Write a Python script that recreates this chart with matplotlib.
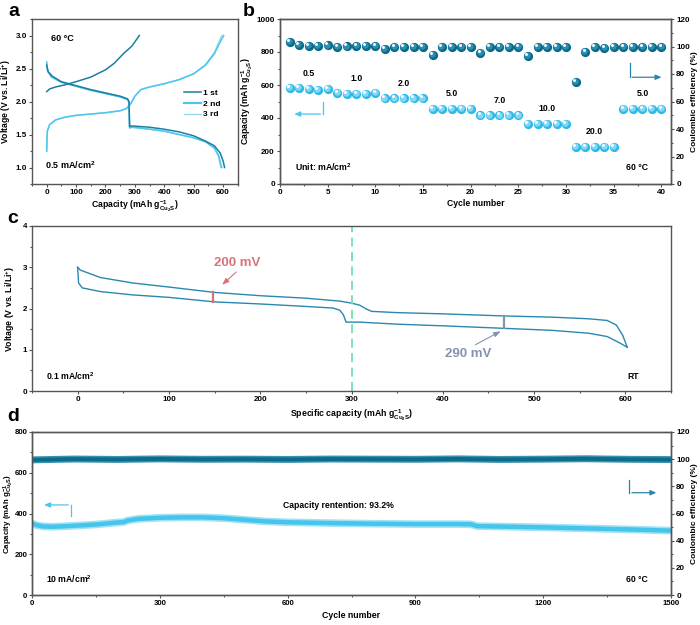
import numpy as np
import matplotlib
matplotlib.use('Agg')
import matplotlib.pyplot as plt
from matplotlib.ticker import MultipleLocator
from matplotlib.transforms import offset_copy
from matplotlib.lines import Line2D

plt.rcParams['font.family'] = ['Liberation Sans', 'DejaVu Sans']
plt.rcParams['font.weight'] = 'bold'
plt.rcParams['axes.labelweight'] = 'bold'
plt.rcParams['mathtext.fontset'] = 'custom'
plt.rcParams['mathtext.rm'] = 'Liberation Sans:bold'
plt.rcParams['mathtext.bf'] = 'Liberation Sans:bold'
plt.rcParams['mathtext.it'] = 'Liberation Sans:bold'
plt.rcParams['mathtext.default'] = 'bf'

# ---- panel a : first three cycles at 0.5 mA/cm2, 60 C
a1_dis_cap = [0, 5, 20, 50, 100, 150, 200, 250, 275, 280, 282, 290, 350, 400, 450, 500, 540, 570, 590, 600, 605]
a1_dis_v = [2.55, 2.45, 2.38, 2.30, 2.24, 2.18, 2.13, 2.08, 2.04, 2.00, 1.62, 1.63, 1.61, 1.58, 1.54, 1.48, 1.40, 1.33, 1.22, 1.10, 1.00]
a1_ch_cap = [0, 10, 30, 60, 100, 150, 200, 230, 260, 290, 315]
a1_ch_v = [2.15, 2.19, 2.22, 2.25, 2.30, 2.37, 2.48, 2.58, 2.72, 2.84, 3.00]
a2_dis_cap = [0, 3, 15, 50, 100, 150, 200, 250, 275, 280, 282, 290, 350, 400, 450, 500, 540, 570, 585, 595]
a2_dis_v = [2.60, 2.47, 2.38, 2.29, 2.23, 2.17, 2.12, 2.07, 2.03, 1.99, 1.60, 1.61, 1.58, 1.55, 1.50, 1.45, 1.39, 1.30, 1.18, 1.00]
a2_ch_cap = [0, 2, 10, 30, 60, 100, 150, 200, 250, 270, 285, 300, 320, 350, 400, 450, 500, 540, 570, 590, 602]
a2_ch_v = [1.25, 1.55, 1.65, 1.72, 1.76, 1.79, 1.81, 1.83, 1.86, 1.89, 1.96, 2.08, 2.18, 2.22, 2.27, 2.33, 2.42, 2.55, 2.72, 2.90, 3.00]
a3_dis_cap = [0, 3, 15, 50, 100, 150, 200, 250, 275, 280, 282, 290, 350, 400, 450, 500, 540, 570, 585, 592]
a3_dis_v = [2.58, 2.46, 2.37, 2.29, 2.23, 2.17, 2.12, 2.07, 2.03, 1.99, 1.60, 1.61, 1.58, 1.55, 1.50, 1.45, 1.39, 1.29, 1.16, 1.00]
a3_ch_cap = [0, 2, 10, 30, 60, 100, 150, 200, 250, 270, 285, 300, 320, 350, 400, 450, 500, 540, 570, 585, 596]
a3_ch_v = [1.25, 1.55, 1.65, 1.72, 1.76, 1.79, 1.81, 1.83, 1.86, 1.89, 1.96, 2.08, 2.18, 2.22, 2.27, 2.33, 2.42, 2.56, 2.74, 2.90, 3.00]

# ---- panel b : rate performance
b_cycle = list(range(1, 41))
b_capacity = [583, 580, 578, 572, 578, 550, 548, 548, 548, 551,
              519, 519, 519, 519, 519, 455, 455, 455, 455, 455,
              416, 416, 416, 416, 416, 366, 366, 366, 366, 366,
              226, 226, 226, 226, 226, 455, 455, 455, 455, 455]
b_ce = [103.5, 101.1, 100.6, 100.4, 100.8, 99.4, 100.1, 100.4, 100.6, 100.6,
        98.0, 100.0, 100.0, 100.0, 100.0, 93.8, 100.0, 100.0, 100.0, 100.0,
        95.5, 100.0, 100.0, 100.0, 100.0, 93.1, 100.0, 100.0, 100.0, 100.0,
        74.0, 96.2, 99.5, 98.9, 100.0, 100.0, 100.0, 100.0, 100.0, 100.0]
b_rates = ['0.5', '1.0', '2.0', '5.0', '7.0', '10.0', '20.0', '5.0']

# ---- panel c : 0.1 mA/cm2 at RT
c_up_cap = [0, 3, 25, 60, 100, 150, 200, 250, 287, 300, 309, 316, 322, 350, 400, 466, 520, 560, 580, 590, 597, 602]
c_up_v = [3.00, 2.93, 2.75, 2.62, 2.52, 2.39, 2.31, 2.25, 2.18, 2.13, 2.08, 1.99, 1.93, 1.90, 1.87, 1.82, 1.79, 1.75, 1.71, 1.60, 1.35, 1.06]
c_lo_cap = [0, 1, 5, 25, 60, 100, 150, 200, 250, 280, 287, 291, 294, 309, 350, 400, 466, 520, 560, 580, 595, 602]
c_lo_v = [3.00, 2.62, 2.50, 2.41, 2.33, 2.27, 2.16, 2.11, 2.05, 2.01, 1.96, 1.85, 1.67, 1.67, 1.62, 1.58, 1.52, 1.47, 1.40, 1.32, 1.15, 1.06]

# ---- panel d : long cycling at 10 mA/cm2
d_cycle = [0, 10, 25, 50, 100, 150, 200, 215, 225, 250, 300, 350, 400, 450, 500, 550, 600,
           700, 800, 900, 1000, 1030, 1045, 1100, 1200, 1300, 1400, 1500]
d_capacity = [352, 343, 337, 335, 340, 346, 356, 358, 366, 374, 379, 381, 381, 377, 369, 361, 357,
              353, 350, 348, 348, 347, 338, 336, 332, 327, 322, 316]
d_ce_cycle = [0, 100, 200, 300, 400, 500, 600, 700, 800, 900, 1000, 1100, 1200, 1300, 1400, 1500]
d_ce = [99.5, 100.1, 99.8, 100.2, 99.9, 100.0, 99.8, 100.1, 100.0, 99.9, 100.2, 99.8, 100.0, 100.3, 99.9, 99.7]

DARK = '#1b7fa3'
LIGHT = '#4cc6ee'
LIGHTER = '#92dcf4'
SPINE = '#555555'

cap_label = r'Capacity (mAh g$^{-1}_{Cu_2S}$)'
volt_label = r'Voltage (V vs. Li/Li$^{+}$)'

fig = plt.figure(figsize=(7, 6.25), dpi=100)
ax_a = fig.add_axes([0.0457, 0.7056, 0.294, 0.264])
ax_b = fig.add_axes([0.4, 0.7056, 0.5586, 0.264])
ax_c = fig.add_axes([0.0457, 0.3744, 0.913, 0.264])
ax_d = fig.add_axes([0.0457, 0.048, 0.913, 0.2608])


def style(ax, size=5.8):
    for s in ax.spines.values():
        s.set_color(SPINE)
        s.set_linewidth(1.0)
    ax.tick_params(which='both', direction='out', color=SPINE, width=0.8,
                   labelsize=size, pad=1.2)
    ax.tick_params(which='major', length=2.5)
    ax.tick_params(which='minor', length=1.5)


def sphere(ax, x, y, base, mid, s=44):
    ax.scatter(x, y, s=s, color=base, zorder=3, linewidths=0, clip_on=False)
    t1 = offset_copy(ax.transData, fig=fig, x=-0.5, y=0.6, units='points')
    ax.scatter(x, y, s=s * 0.5, color=mid, zorder=4, linewidths=0, transform=t1, clip_on=False)
    t2 = offset_copy(ax.transData, fig=fig, x=-1.2, y=1.4, units='points')
    ax.scatter(x, y, s=s * 0.1, color='white', zorder=5, linewidths=0, transform=t2, clip_on=False)


# ---------------- a
ax_a.plot(a3_dis_cap, a3_dis_v, color=LIGHTER, lw=1.0)
ax_a.plot(a3_ch_cap, a3_ch_v, color=LIGHTER, lw=1.0)
ax_a.plot(a2_dis_cap, a2_dis_v, color=LIGHT, lw=1.1)
ax_a.plot(a2_ch_cap, a2_ch_v, color=LIGHT, lw=1.1)
ax_a.plot(a1_dis_cap, a1_dis_v, color=DARK, lw=1.1)
ax_a.plot(a1_ch_cap, a1_ch_v, color=DARK, lw=1.1)
ax_a.set_xlim(-50, 650)
ax_a.set_ylim(0.75, 3.25)
ax_a.xaxis.set_major_locator(MultipleLocator(100))
ax_a.xaxis.set_minor_locator(MultipleLocator(50))
ax_a.yaxis.set_major_locator(MultipleLocator(0.5))
ax_a.yaxis.set_minor_locator(MultipleLocator(0.25))
ax_a.set_xlabel(cap_label, fontsize=6.2, labelpad=2)
ax_a.set_ylabel(volt_label, fontsize=6.2, labelpad=2)
style(ax_a)
handles = [Line2D([], [], color=DARK, lw=1.1), Line2D([], [], color=LIGHT, lw=1.6),
           Line2D([], [], color=LIGHTER, lw=1.0)]
ax_a.legend(handles, ['1 st', '2 nd', '3 rd'], loc='upper left', bbox_to_anchor=(0.72, 0.6),
            frameon=False, fontsize=6, handlelength=2.0, handletextpad=0.3,
            labelspacing=0.35, borderpad=0)
ax_a.text(15, 2.95, '60 °C', fontsize=6.5, va='center')
ax_a.text(-7, 1.03, '0.5 mA/cm$^2$', fontsize=6.5, va='center')

# ---------------- b
ax_b2 = ax_b.twinx()
sphere(ax_b, b_cycle, b_capacity, '#2fb8e6', '#7fd8f6')
sphere(ax_b2, b_cycle, b_ce, '#0b6986', '#2b8fb1')
ax_b.set_xlim(0, 41)
ax_b.set_ylim(0, 1000)
ax_b2.set_ylim(0, 120)
ax_b.xaxis.set_major_locator(MultipleLocator(5))
ax_b.xaxis.set_minor_locator(MultipleLocator(2.5))
ax_b.yaxis.set_major_locator(MultipleLocator(200))
ax_b.yaxis.set_minor_locator(MultipleLocator(100))
ax_b2.yaxis.set_major_locator(MultipleLocator(20))
ax_b2.yaxis.set_minor_locator(MultipleLocator(10))
ax_b.set_xlabel('Cycle number', fontsize=6.2, labelpad=2)
ax_b.set_ylabel(cap_label, fontsize=6.2, labelpad=1)
ax_b2.set_ylabel('Coulombic efficiency (%)', fontsize=6.0, labelpad=1)
style(ax_b)
style(ax_b2)
for i, r in enumerate(b_rates):
    grp_x = b_cycle[i * 5:(i + 1) * 5]
    grp_y = b_capacity[i * 5:(i + 1) * 5]
    ax_b.annotate(r, (np.mean(grp_x), np.mean(grp_y)), xytext=(0, 11),
                  textcoords='offset points', ha='center', va='center', fontsize=6.3)
ax_b.plot([4.5, 4.5], [499, 424], color=LIGHT, lw=0.9)
ax_b.annotate('', xy=(1.2, 424), xytext=(4.55, 424),
              arrowprops=dict(arrowstyle='-|>,head_length=0.35,head_width=0.15', color=LIGHT, lw=0.9))
ax_b.plot([36.7, 36.7], [731, 647], color='#2a86a8', lw=0.9)
ax_b.annotate('', xy=(40.3, 647), xytext=(36.65, 647),
              arrowprops=dict(arrowstyle='-|>,head_length=0.35,head_width=0.15', color='#2a86a8', lw=0.9))
ax_b.text(1.6, 103, 'Unit: mA/cm$^2$', fontsize=6.3, va='center')
ax_b.text(36.3, 99, '60 °C', fontsize=6.3, va='center')

# ---------------- c
ax_c.plot(c_up_cap, c_up_v, color='#2a88ae', lw=1.0)
ax_c.plot(c_lo_cap, c_lo_v, color='#2a88ae', lw=1.0)
ax_c.axvline(300, color='#74deb0', lw=1.3, ls=(0, (5, 3)))
ax_c.plot([148, 148], [2.16, 2.39], color='#d8727a', lw=1.6)
ax_c.plot([467, 467], [1.52, 1.82], color='#8393b0', lw=1.6)
ax_c.annotate('', xy=(156, 2.53), xytext=(176, 2.93),
              arrowprops=dict(arrowstyle='-|>,head_length=0.4,head_width=0.15', color='#d8727a', lw=0.8))
ax_c.text(175, 3.1, '200 mV', color='#d8727a', fontsize=9.5, ha='center', va='center')
ax_c.annotate('', xy=(466, 1.48), xytext=(433, 1.09),
              arrowprops=dict(arrowstyle='-|>,head_length=0.4,head_width=0.15', color='#8393b0', lw=0.8))
ax_c.text(428, 0.9, '290 mV', color='#8393b0', fontsize=9.5, ha='center', va='center')
ax_c.set_xlim(-50, 650)
ax_c.set_ylim(0, 4)
ax_c.xaxis.set_major_locator(MultipleLocator(100))
ax_c.xaxis.set_minor_locator(MultipleLocator(50))
ax_c.yaxis.set_major_locator(MultipleLocator(1))
ax_c.yaxis.set_minor_locator(MultipleLocator(0.5))
ax_c.set_xlabel('Specific capacity (mAh g$^{-1}_{Cu_2S}$)', fontsize=6.3, labelpad=3)
ax_c.set_ylabel(volt_label, fontsize=6.3, labelpad=4)
style(ax_c, 5.8)
ax_c.text(-35, 0.35, '0.1 mA/cm$^2$', fontsize=6.2, va='center')
ax_c.text(608, 0.35, 'RT', fontsize=6.2, va='center', ha='center')

# ---------------- d
ax_d2 = ax_d.twinx()
ax_d.plot(d_cycle, d_capacity, color='#a2e2f6', lw=5.5, solid_capstyle='butt', zorder=2)
ax_d.plot(d_cycle, d_capacity, color='#45c4ec', lw=3.2, solid_capstyle='butt', zorder=2)
ax_d2.plot(d_ce_cycle, d_ce, color='#3a92b0', lw=5.0, solid_capstyle='butt')
ax_d2.plot(d_ce_cycle, d_ce, color='#0c6c8a', lw=2.8, solid_capstyle='butt')
ax_d.set_xlim(0, 1500)
ax_d.set_ylim(0, 800)
ax_d2.set_ylim(0, 120)
ax_d.xaxis.set_major_locator(MultipleLocator(300))
ax_d.xaxis.set_minor_locator(MultipleLocator(150))
ax_d.yaxis.set_major_locator(MultipleLocator(200))
ax_d.yaxis.set_minor_locator(MultipleLocator(100))
ax_d2.yaxis.set_major_locator(MultipleLocator(20))
ax_d2.yaxis.set_minor_locator(MultipleLocator(10))
ax_d.set_xlabel('Cycle number', fontsize=6.3, labelpad=3)
ax_d.set_ylabel(cap_label, fontsize=5.7)
ax_d.yaxis.set_label_coords(-0.025, 0.5)
ax_d2.set_ylabel('Coulombic efficiency (%)', fontsize=6.0, labelpad=1)
style(ax_d, 5.6)
style(ax_d2, 5.8)
ax_d.tick_params(axis='y', pad=0.8)
ax_d.plot([91, 91], [390, 442], color=LIGHT, lw=0.9)
ax_d.annotate('', xy=(22, 442), xytext=(91.5, 442),
              arrowprops=dict(arrowstyle='-|>,head_length=0.35,head_width=0.15', color=LIGHT, lw=0.9))
ax_d.plot([1402, 1402], [564, 502], color='#2a86a8', lw=0.9)
ax_d.annotate('', xy=(1472, 502), xytext=(1401.5, 502),
              arrowprops=dict(arrowstyle='-|>,head_length=0.35,head_width=0.15', color='#2a86a8', lw=0.9))
ax_d.text(720, 437, 'Capacity rentention: 93.2%', fontsize=6.2, ha='center', va='center')
ax_d.text(34, 76, '10 mA/cm$^2$', fontsize=6.2, va='center')
ax_d.text(1395, 76, '60 °C', fontsize=6.2, va='center')

fig.text(0.012, 0.974, 'a', fontsize=14, va='baseline')
fig.text(0.347, 0.974, 'b', fontsize=14, va='baseline')
fig.text(0.010, 0.643, 'c', fontsize=14, va='baseline')
fig.text(0.010, 0.327, 'd', fontsize=14, va='baseline')

fig.savefig('out.png', dpi=100)
